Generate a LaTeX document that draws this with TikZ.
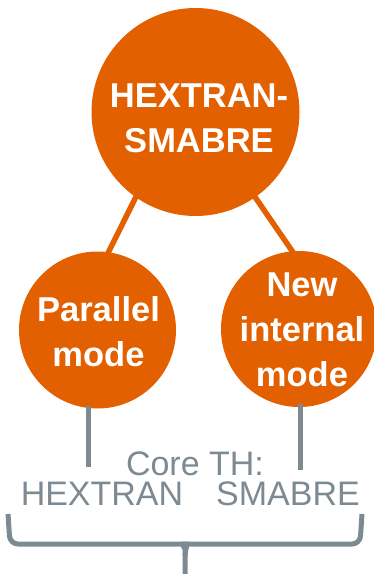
\documentclass[tikz,border=0pt]{standalone}
\usepackage{fontspec}
\setmainfont{Liberation Sans}
\definecolor{modeorange}{RGB}{227,96,0}
\definecolor{coregray}{RGB}{125,138,146}
\tikzset{
  bubble/.style={circle, fill=modeorange, draw=none, inner sep=0pt},
  bubbletext/.style={text=white, align=center, inner sep=0pt,
    font=\fontsize{34.5}{45}\selectfont\bfseries},
  link/.style={modeorange, line width=5.5pt, shorten <=-4pt, shorten >=-4pt},
  stem/.style={coregray, line width=5pt},
  corelabel/.style={text=coregray, anchor=base, inner sep=0pt,
    font=\fontsize{34}{34}\selectfont},
}

\begin{document}
\begin{tikzpicture}[x=1pt, y=-1pt]
    \useasboundingbox (0,0) rectangle (374,574);

    % --- the three orange circles ---
    \node[bubble, minimum size=208pt] (coupled) at (195.5,112) {};
    \node[bubble, minimum size=157pt] (parallel) at (97.5,330) {};
    \node[bubble, minimum size=156pt] (internal) at (299,329) {};

    % links between the circles
    \draw[link] (coupled.235.8) -- (parallel.82.3);
    \draw[link] (coupled.305.6) -- (internal.95.2);

    % texts in the circles
    \node[bubbletext] (coupledtext) at (199,118) {HEXTRAN-\\SMABRE};
    \node[bubbletext] (paralleltext) at (98.5,331.5) {Parallel\\mode};
    \node[bubbletext] (internaltext) at (302,330) {New\\internal\\mode};

    % --- gray stems down to the core codes ---
    \coordinate (hexend) at (88,467);
    \coordinate (smaend) at (300,470);
    \draw[stem, shorten <=-3pt] (hexend |- parallel.south) -- (hexend);
    \draw[stem, shorten <=-3pt] (smaend |- internal.south) -- (smaend);

    \node[corelabel] (coreth) at (195,475) {Core TH:};
    \node[corelabel] (hextran) at (102,505) {HEXTRAN};
    \node[corelabel] (smabre) at (288,505) {SMABRE};

    % brace under both codes
    \coordinate (bracetip) at (185,578);
    \draw[stem, rounded corners=8pt] (8,514) -- (10,544) -- (176,544)
        to[out=0, in=90] (185,556) -- (bracetip);
    \draw[stem, rounded corners=8pt] (362,514) -- (360,544) -- (194,544)
        to[out=180, in=90] (185,556);

\end{tikzpicture}
\end{document}
